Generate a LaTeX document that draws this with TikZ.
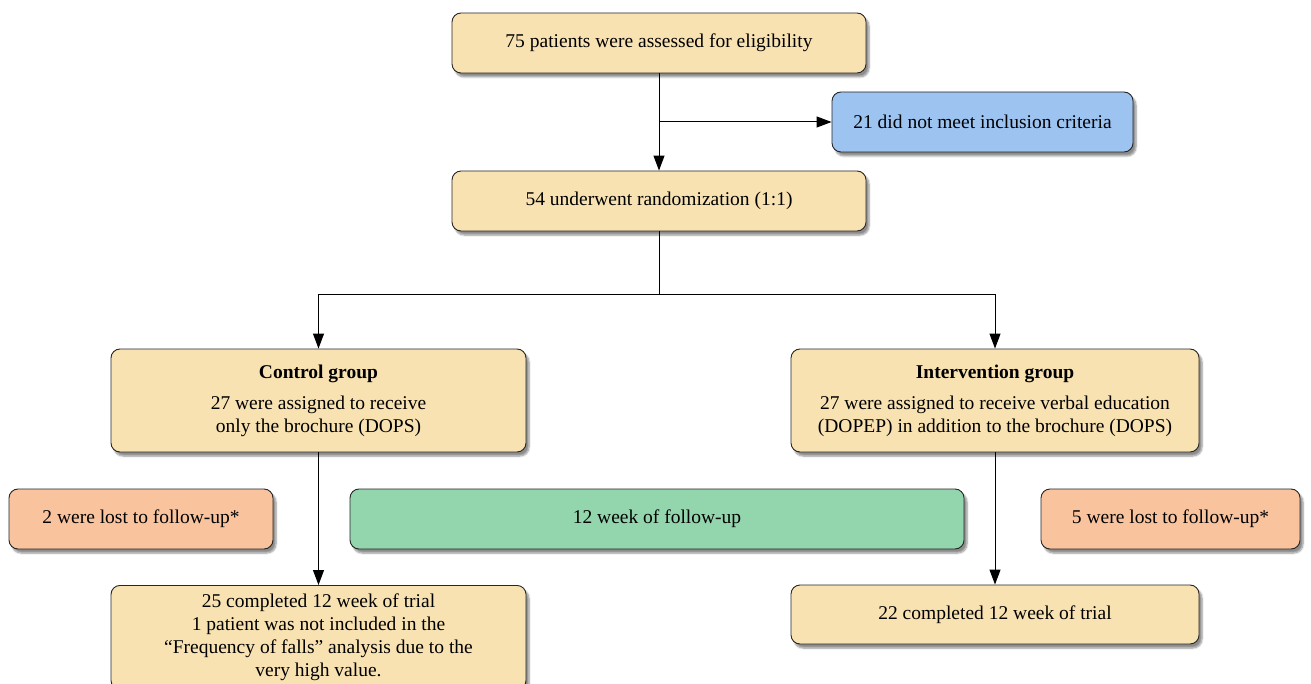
\documentclass[tikz,border=0pt]{standalone}
\usepackage{fontspec}
\setmainfont{Liberation Serif}
\usetikzlibrary{shadows.blur,arrows.meta}
\definecolor{boxy}{HTML}{F8E2B2}
\definecolor{boxb}{HTML}{9DC3F1}
\definecolor{boxs}{HTML}{F9C39E}
\definecolor{boxg}{HTML}{93D6AE}
\begin{document}
\begin{tikzpicture}[x=1pt,y=-1pt,
 box/.style={draw=black!85, line width=0.9pt, rounded corners=9pt, align=center,
   font=\fontsize{19.5}{23}\selectfont, inner sep=0pt,
   blur shadow={shadow xshift=3pt, shadow yshift=-4pt, shadow blur steps=6, shadow opacity=45}},
 arr/.style={-{Triangle[length=15pt,width=11pt]}, line width=1pt}]
\useasboundingbox (0,0) rectangle (1311,684);
\node[box, fill=boxy, minimum width=414, minimum height=60] (elig) at (659,43) {75 patients were assessed for eligibility};
\node[box, fill=boxb, minimum width=301, minimum height=60] (excl) at (982.5,122) {21 did not meet inclusion criteria};
\node[box, fill=boxy, minimum width=414, minimum height=60] (rand) at (659,201) {54 underwent randomization (1:1)};
\node[box, fill=boxy, minimum width=415, minimum height=103] (ctrl) at (318.5,400.5) {\textbf{Control group}\\[8pt]27 were assigned to receive\\only the brochure (DOPS)};
\node[box, fill=boxy, minimum width=408, minimum height=103] (intv) at (995,400.5) {\textbf{Intervention group}\\[8pt]27 were assigned to receive verbal education\\(DOPEP) in addition to the brochure (DOPS)};
\node[box, fill=boxs, minimum width=264, minimum height=60] (lossL) at (141,519) {2 were lost to follow-up*};
\node[box, fill=boxg, minimum width=614, minimum height=60] (follow) at (657,519) {12 week of follow-up};
\node[box, fill=boxs, minimum width=259, minimum height=60] (lossR) at (1170.5,519) {5 were lost to follow-up*};
\node[box, fill=boxy, minimum width=415, minimum height=104, anchor=north] (compL) at (318.5,585) {25 completed 12 week of trial\\1 patient was not included in the\\``Frequency of falls'' analysis due to the\\very high value.};
\node[box, fill=boxy, minimum width=408, minimum height=59] (compR) at (995,614.5) {22 completed 12 week of trial};
\coordinate (br) at (elig.south |- excl.west);
\coordinate (split) at (659,295);
\draw[arr] (elig.south) -- (rand.north);
\draw[arr] (br) -- (excl.west);
\draw[line width=1pt] (rand.south) -- (split);
\draw[arr] (split) -| (ctrl.north);
\draw[arr] (split) -| (intv.north);
\draw[arr] (ctrl.south) -- (compL.north);
\draw[arr] (intv.south) -- (compR.north);
\end{tikzpicture}
\end{document}
